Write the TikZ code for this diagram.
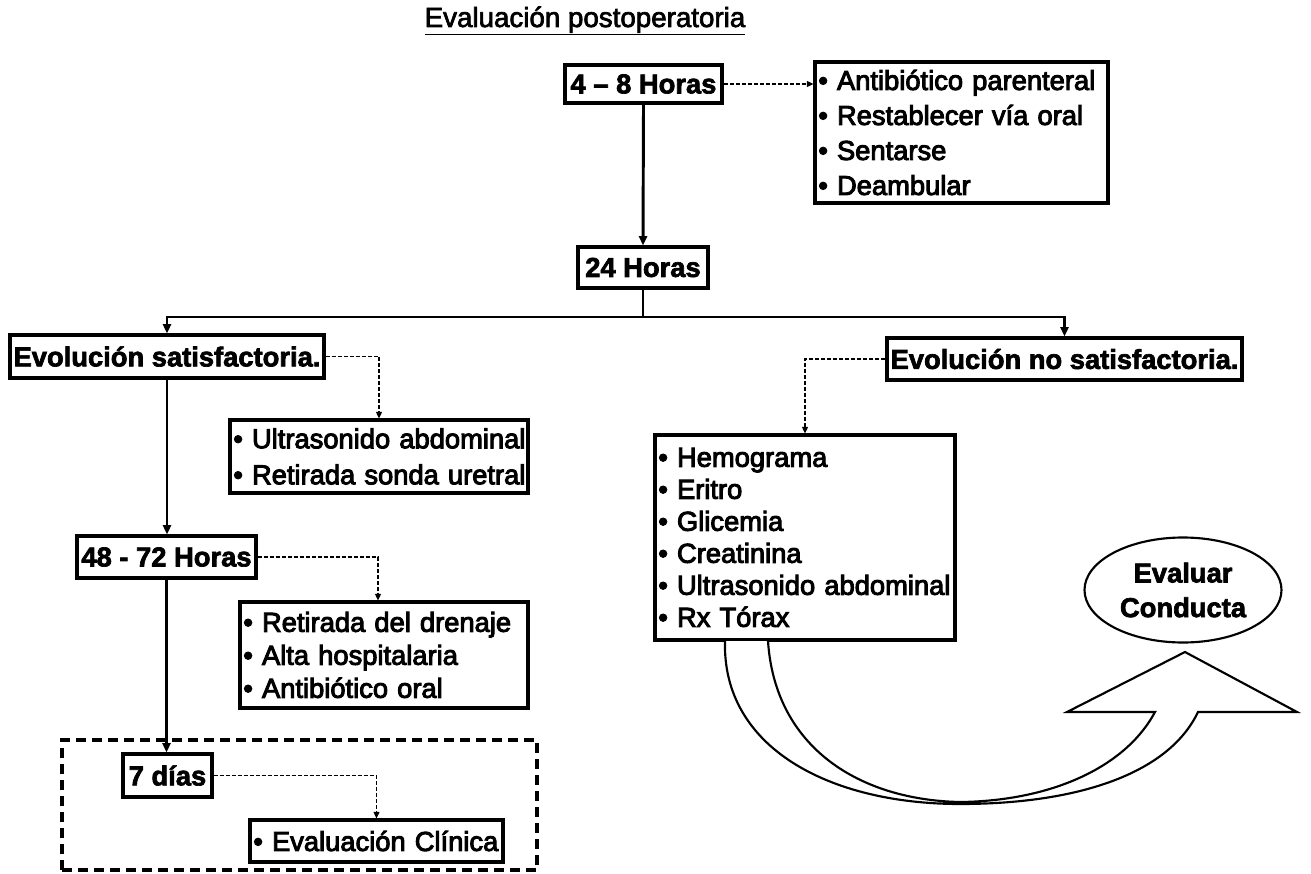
\documentclass[tikz,border=0pt]{standalone}
\usepackage{fontspec}
\setmainfont{Liberation Sans}
\newfontfamily\itmfont{Liberation Sans}[FakeBold=3.5]
\newfontfamily\hdrfont{Liberation Sans}[BoldFeatures={FakeBold=2.5}]
\newfontfamily\ttlfont{Liberation Sans}[FakeBold=2.5]
\usetikzlibrary{arrows.meta,shapes.geometric}
\newcommand\bul[1]{\mbox{• #1}}
\begin{document}
\begin{tikzpicture}[x=0.75pt,y=-0.75pt,
  hdr/.style={draw, line width=2.3pt, inner sep=0pt, font=\hdrfont\bfseries\fontsize{20.5}{24}\selectfont},
  lst/.style={draw, line width=2.3pt, inner xsep=2.5pt, inner ysep=0pt, align=left},
  solidarrow/.style={line width=2.2pt, -{Triangle[length=7pt,width=6pt]}},
  solidline/.style={line width=2.2pt},
  dasharrow/.style={line width=1pt, dash pattern=on 3pt off 1.5pt, -{Triangle[length=5pt,width=4.5pt]}},
  groupbox/.style={draw, line width=2.3pt, dash pattern=on 7.5pt off 4.5pt, inner sep=0pt},
]
\useasboundingbox (0,0) rectangle (1311,874);

\node[font=\ttlfont\fontsize{20.8}{24}\selectfont] (title) at (585,21) {\underline{Evaluación postoperatoria}};

\node[hdr, minimum width=117.75pt, minimum height=28.5pt] (b48) at (643.5,84) {4 – 8 Horas};
\node[lst, text width=214.75pt, minimum height=105.75pt, font=\itmfont\fontsize{20.5}{26.25}\selectfont] (l1) at (961.5,132.5)
  {\bul{Antibiótico parenteral}\\\bul{Restablecer vía oral}\\\bul{Sentarse}\\\bul{Deambular}};
\node[hdr, minimum width=97.5pt, minimum height=30.75pt] (b24) at (643,267.5) {24 Horas};
\coordinate (br) at (643,317);

\node[hdr, minimum width=235.5pt, minimum height=32.25pt] (esat) at (167,356.5) {Evolución satisfactoria.};
\node[lst, text width=218.5pt, minimum height=54.75pt, font=\itmfont\fontsize{20.5}{27}\selectfont] (ultra) at (379,456.5)
  {\bul{Ultrasonido abdominal}\\\bul{Retirada sonda uretral}};
\node[hdr, minimum width=134.25pt, minimum height=31.5pt] (b4872) at (166.5,557) {48 - 72 Horas};
\node[lst, text width=211pt, minimum height=79.5pt, font=\itmfont\fontsize{20.5}{24.75}\selectfont] (retir) at (384,655)
  {\bul{Retirada del drenaje}\\\bul{Alta hospitalaria}\\\bul{Antibiótico oral}};

\node[groupbox, minimum width=356.25pt, minimum height=97.5pt] (grp) at (299.5,805) {};
\node[hdr, fill=white, minimum width=66.75pt, minimum height=32.25pt] (b7) at (167.5,775.5) {7 días};
\node[lst, text width=184.75pt, minimum height=31.5pt, font=\itmfont\fontsize{20.5}{24}\selectfont] (evcl) at (376.5,841)
  {\bul{Evaluación Clínica}};

\node[hdr, minimum width=266.25pt, minimum height=31.5pt] (ensat) at (1064.5,359) {Evolución no satisfactoria.};
\node[lst, text width=220pt, minimum height=153.75pt, font=\itmfont\fontsize{20.5}{24}\selectfont] (hemo) at (805,537.5)
  {\bul{Hemograma}\\\bul{Eritro}\\\bul{Glicemia}\\\bul{Creatinina}\\\bul{Ultrasonido abdominal}\\\bul{Rx Tórax}};

% curved up arrow
\draw[line width=1.6pt, line join=miter, fill=white]
  (725,641) .. controls (722,748) and (830,804) .. (960,804)
  .. controls (1075,804) and (1168,775) .. (1198,712)
  -- (1297,712) -- (1185,652) -- (1067,712) -- (1155,712)
  .. controls (1125,768) and (1050,801) .. (960,802)
  .. controls (860,800) and (775,748) .. (768,641);

\node[ellipse, draw, line width=1.6pt, fill=white, inner sep=0pt, minimum width=147.75pt, minimum height=78.75pt,
  align=center, font=\hdrfont\bfseries\fontsize{20.5}{26}\selectfont] (eval) at (1183,590) {Evaluar\\Conducta};

% connectors
\draw[dasharrow] (b48.east) -- (b48.east -| l1.west);
\draw[solidarrow] (b48.south) -- (b24.north);
\draw[solidline] (b24.south) -- (br);
\draw[solidarrow] (br) -| (esat.north);
\draw[solidarrow] (br) -| (ensat.north);
\draw[dasharrow] (esat.east) -| (ultra.north);
\draw[solidarrow] (esat.south) -- (esat.south |- b4872.north);
\draw[dasharrow] (b4872.east) -| ([xshift=-4.5pt]retir.north);
\draw[solidarrow] (b4872.south) -- (b4872.south |- b7.north);
\draw[dasharrow] (b7.east) -| (evcl.north);
\draw[dasharrow] (ensat.west) -| (hemo.north);
\end{tikzpicture}
\end{document}
